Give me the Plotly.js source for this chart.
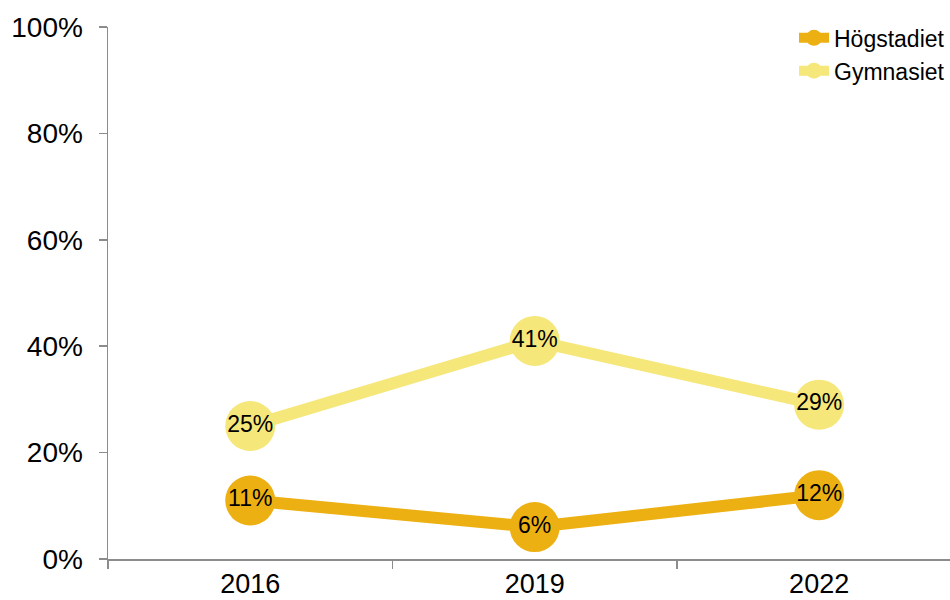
<!DOCTYPE html>
<html>
<head>
<meta charset="utf-8">
<script src="https://cdn.plot.ly/plotly-3.0.1.min.js"></script>
<style>html,body{margin:0;padding:0;background:#fff;}#chart{width:950px;height:600px;}</style>
</head>
<body>
<div id="chart"></div>
<script>
const years = ["2016", "2019", "2022"];
const hogstadiet = [11, 6, 12];
const gymnasiet = [25, 41, 29];
const seriesNames = ["Högstadiet", "Gymnasiet"];
const yTickVals = [0, 20, 40, 60, 80, 100];
const yTickText = ["0%", "20%", "40%", "60%", "80%", "100%"];
const colors = ["#EDB013", "#F6E77A"];

function trace(name, vals, color) {
  return {
    x: years, y: vals, name: name, type: "scatter", mode: "lines+markers+text",
    line: {color: color, width: 12},
    marker: {color: color, size: 50},
    text: vals.map(v => v + "%"),
    textposition: "middle center",
    textfont: {family: "Liberation Sans, Arial, sans-serif", size: 23, color: "#000"},
    hoverinfo: "skip"
  };
}

const data = [
  trace(seriesNames[1], gymnasiet, colors[1]),
  trace(seriesNames[0], hogstadiet, colors[0])
];

const layout = {
  width: 950, height: 600,
  margin: {l: 108, r: 0, t: 27, b: 41},
  paper_bgcolor: "#fff", plot_bgcolor: "#fff",
  font: {family: "Liberation Sans, Arial, sans-serif", color: "#000"},
  showlegend: true,
  legend: {x: 1, xanchor: "right", y: 1.02, yanchor: "top", traceorder: "reversed",
           font: {size: 23, color: "#000"}, bgcolor: "rgba(0,0,0,0)", itemwidth: 30,
           tracegroupgap: 0},
  xaxis: {
    type: "category", range: [-0.5, 2.46],
    showline: true, linecolor: "#8c8c8c", linewidth: 1.5,
    ticks: "outside", tickson: "boundaries", ticklen: 8, tickcolor: "#8c8c8c", tickwidth: 1.5,
    showgrid: false, zeroline: false,
    tickfont: {size: 27, color: "#000"}
  },
  yaxis: {
    range: [0, 100], tickmode: "array", tickvals: yTickVals, ticktext: yTickText,
    showline: true, linecolor: "#8c8c8c", linewidth: 1.5,
    ticks: "outside", ticklen: 8, tickcolor: "#8c8c8c", tickwidth: 1.5,
    ticklabelstandoff: 10,
    showgrid: false, zeroline: false,
    tickfont: {size: 28, color: "#000"}
  }
};

Plotly.newPlot("chart", data, layout, {displayModeBar: false, staticPlot: true});
</script>
</body>
</html>
